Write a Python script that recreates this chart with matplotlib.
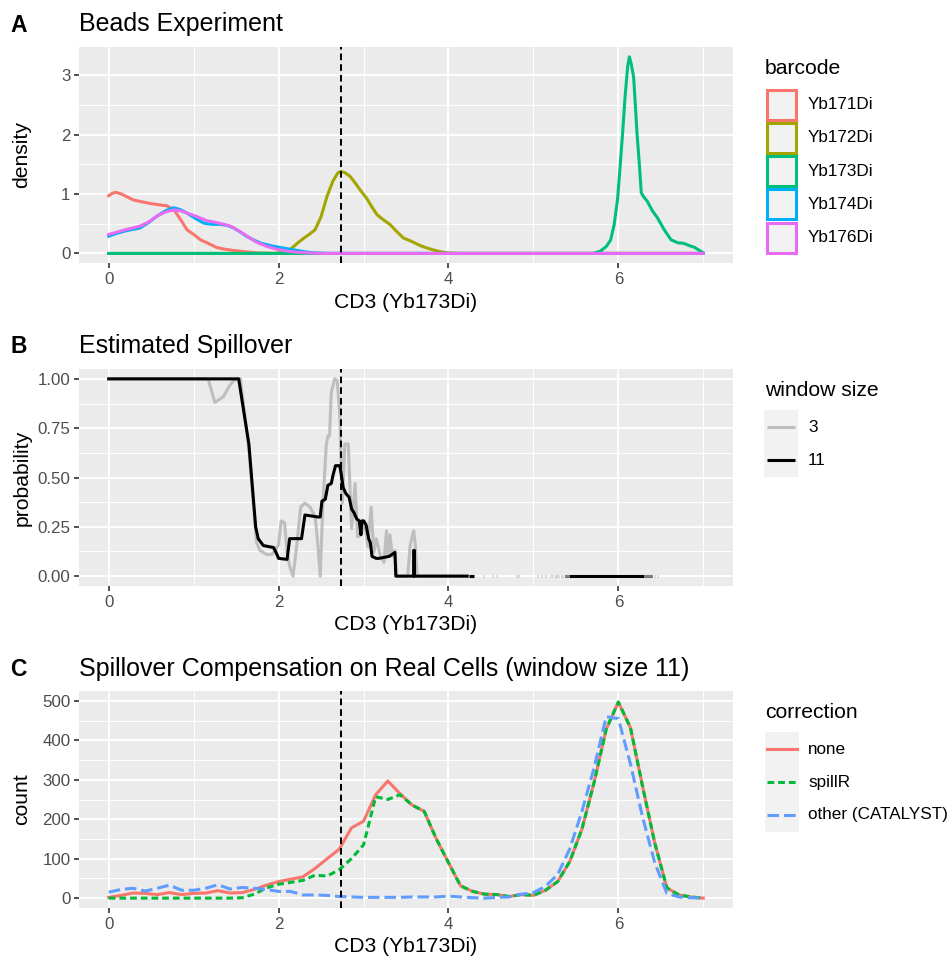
import numpy as np
import matplotlib
matplotlib.use("Agg")
import matplotlib.pyplot as plt
from matplotlib.patches import Rectangle
from matplotlib.ticker import FormatStrFormatter

plt.rcParams['font.family'] = ['Liberation Sans', 'DejaVu Sans']

# ---- Panel A: bead densities per barcode ----
barcodes = ["Yb171Di", "Yb172Di", "Yb173Di", "Yb174Di", "Yb176Di"]
bar_colors = ["#F8766D", "#A3A500", "#00BF7D", "#00B0F6", "#E76BF3"]

yb171_x = [0, 0.04, 0.08, 0.15, 0.29, 0.49, 0.69, 0.78, 0.86, 0.92, 1.0, 1.08, 1.2, 1.27,
           1.37, 1.47, 1.6, 1.75, 2.0, 7]
yb171_y = [0.97, 1.01, 1.03, 1.0, 0.9, 0.84, 0.80, 0.71, 0.54, 0.40, 0.32, 0.23, 0.15, 0.10,
           0.07, 0.05, 0.03, 0.01, 0.0, 0.0]
yb172_x = [0, 1.95, 2.05, 2.14, 2.22, 2.29, 2.36, 2.43, 2.5, 2.57, 2.64, 2.70, 2.73, 2.78, 2.84,
           2.9, 2.96, 3.04, 3.1, 3.16, 3.24, 3.31, 3.39, 3.47, 3.57, 3.67, 3.75, 3.82, 3.9, 3.98,
           4.1, 7]
yb172_y = [0, 0, 0.02, 0.07, 0.17, 0.25, 0.32, 0.40, 0.62, 0.96, 1.22, 1.36, 1.38, 1.36, 1.30,
           1.19, 1.07, 0.92, 0.78, 0.65, 0.56, 0.49, 0.37, 0.26, 0.20, 0.13, 0.09, 0.06, 0.03, 0.01,
           0, 0]
yb173_x = [0, 5.7, 5.79, 5.86, 5.91, 5.95, 5.99, 6.02, 6.05, 6.08, 6.11, 6.13, 6.15, 6.18, 6.2,
           6.22, 6.25, 6.27, 6.3, 6.34, 6.4, 6.46, 6.54, 6.62, 6.7, 6.77, 6.84, 6.9, 7.0]
yb173_y = [0, 0, 0.04, 0.12, 0.23, 0.48, 0.9, 1.45, 2.02, 2.65, 3.15, 3.31, 3.2, 2.97, 2.5,
           2.02, 1.45, 1.02, 0.95, 0.88, 0.72, 0.6, 0.4, 0.23, 0.18, 0.17, 0.13, 0.10, 0.01]
yb174_x = [0, 0.1, 0.2, 0.37, 0.47, 0.57, 0.67, 0.76, 0.84, 0.92, 1.02, 1.12, 1.22, 1.31, 1.4,
           1.47, 1.55, 1.62, 1.7, 1.8, 1.94, 2.06, 2.18, 2.3, 2.41, 2.6, 7]
yb174_y = [0.29, 0.34, 0.38, 0.43, 0.52, 0.63, 0.72, 0.77, 0.74, 0.68, 0.59, 0.51, 0.49, 0.49,
           0.47, 0.43, 0.36, 0.29, 0.23, 0.17, 0.12, 0.09, 0.06, 0.03, 0.01, 0, 0]
yb176_x = [0, 0.1, 0.2, 0.37, 0.47, 0.57, 0.67, 0.76, 0.84, 0.92, 1.02, 1.16, 1.3, 1.43, 1.52,
           1.63, 1.74, 1.86, 1.98, 2.1, 2.22, 2.33, 2.5, 7]
yb176_y = [0.32, 0.36, 0.40, 0.46, 0.53, 0.63, 0.70, 0.73, 0.72, 0.68, 0.63, 0.55, 0.51, 0.46,
           0.39, 0.29, 0.19, 0.12, 0.07, 0.04, 0.02, 0.01, 0, 0]
density_x = [yb171_x, yb172_x, yb173_x, yb174_x, yb176_x]
density_y = [yb171_y, yb172_y, yb173_y, yb174_y, yb176_y]

# ---- Panel B: estimated spillover probability ----
win3_x = [0, 1.17, 1.25, 1.35, 1.43, 1.49, 1.55, 1.65, 1.74, 1.78, 1.86, 1.92, 1.96, 2.0, 2.03,
          2.07, 2.10, 2.13, 2.17, 2.21, 2.26, 2.31, 2.37, 2.43, 2.46, 2.49, 2.52, 2.56, 2.58,
          2.60, 2.62, 2.66, 2.69, 2.72, 2.75, 2.78, 2.82, 2.86, 2.90, 2.93, 2.97, 3.01, 3.05,
          3.09, 3.12, 3.15, 3.20, 3.24, 3.27, 3.29, 3.31, 3.34, 3.37, 3.39, 3.52, 3.55, 3.59,
          3.61, 3.63, 4.22]
win3_y = [1, 1, 0.88, 0.91, 0.97, 1.0, 1.0, 0.64, 0.17, 0.13, 0.11, 0.11, 0.13, 0.16, 0.28,
          0.27, 0.12, 0.05, 0.0, 0.14, 0.35, 0.37, 0.35, 0.30, 0.17, 0.0, 0.35, 0.66, 0.71,
          0.71, 0.93, 1.0, 0.99, 0.82, 0.37, 0.67, 0.67, 0.24, 0.47, 0.20, 0.21, 0.28, 0.15,
          0.35, 0.12, 0.19, 0.10, 0.07, 0.23, 0.10, 0.21, 0.10, 0.13, 0.0, 0.0, 0.16, 0.23,
          0.16, 0.0, 0.0]
win11_x = [0, 1.53, 1.65, 1.73, 1.76, 1.82, 1.94, 1.97, 2.0, 2.1, 2.13, 2.27, 2.31, 2.46, 2.49,
           2.51, 2.55, 2.58, 2.62, 2.64, 2.67, 2.72, 2.74, 2.76, 2.79, 2.83, 2.86, 2.89, 2.92,
           2.95, 2.97, 2.98, 3.0, 3.03, 3.06, 3.08, 3.10, 3.15, 3.18, 3.30, 3.37, 3.38, 3.59,
           3.59, 3.60, 3.60, 4.22]
win11_y = [1, 1, 0.67, 0.25, 0.19, 0.155, 0.145, 0.12, 0.09, 0.085, 0.19, 0.19, 0.31, 0.30,
           0.30, 0.38, 0.39, 0.46, 0.47, 0.51, 0.56, 0.56, 0.51, 0.45, 0.42, 0.40, 0.34, 0.32,
           0.29, 0.28, 0.21, 0.28, 0.28, 0.26, 0.19, 0.17, 0.10, 0.09, 0.09, 0.10, 0.12, 0.0,
           0.0, 0.13, 0.13, 0.0, 0.0]
# sparse zero-probability stretches at high intensity
win3_tail = [4.41, 4.51, 4.56, 4.79, 4.82, 5.04, 5.09, 5.14, 5.19, 5.22, 5.26, 5.29, 5.32,
             5.34, 6.42, 6.45]
win11_tail = [(4.24, 4.30), (5.37, 5.385), (5.395, 5.41), (5.42, 6.30), (6.31, 6.32),
              (6.335, 6.345), (6.36, 6.37), (6.385, 6.395)]

# ---- Panel C: counts on real cells ----
bins = np.linspace(0, 7, 50)
count_none = [2, 7, 13, 12, 9, 14, 9, 12, 13, 19, 13, 14, 22, 33, 42, 48, 54, 75, 100, 124,
              178, 195, 262, 297, 265, 236, 220, 150, 90, 31, 17, 10, 9, 4, 9, 7, 20, 42, 93,
              175, 293, 428, 497, 432, 283, 140, 26, 8, 3, 0]
count_spillr = [0, 0, 0, 0, 0, 0, 0, 0, 0, 0, 0, 1, 10, 26, 35, 40, 45, 58, 56, 72, 100, 135,
                257, 250, 262, 236, 220, 150, 90, 31, 17, 10, 9, 4, 9, 7, 20, 42, 93, 175, 293,
                428, 497, 432, 283, 140, 26, 8, 3, 0]
count_catalyst = [15, 22, 25, 18, 25, 33, 20, 20, 25, 34, 23, 27, 25, 22, 17, 17, 8, 8, 7, 4,
                  3, 2, 2, 2, 2, 3, 3, 3, 5, 3, 1, 0, 2, 3, 10, 14, 30, 60, 125, 220, 330, 460,
                  455, 340, 205, 90, 12, 3, 1, 0]
corrections = ["none", "spillR", "other (CATALYST)"]
corr_colors = ["#F8766D", "#00BA38", "#619CFF"]
corr_styles = ["-", (0, (2.2, 1.3)), (0, (3.8, 1.6))]

threshold = 2.73

W, H = 947, 958
fig = plt.figure(figsize=(W / 100, H / 100), dpi=100)

TICK_FS = 12.2
LAB_FS = 15.2
TITLE_FS = 18
TAG_FS = 16.5
KEY_FS = 12.3


def panel(top, bottom):
    ax = fig.add_axes([79 / W, 1 - bottom / H, 654 / W, (bottom - top) / H])
    ax.set_facecolor("#EBEBEB")
    for s in ax.spines.values():
        s.set_visible(False)
    ax.set_axisbelow(True)
    ax.grid(which="major", color="white", lw=1.3)
    ax.grid(which="minor", color="white", lw=0.65)
    ax.tick_params(which="major", length=3.8, width=1.2, color="#333333",
                   labelcolor="#4D4D4D", labelsize=TICK_FS, pad=2.4)
    ax.tick_params(which="minor", length=0)
    ax.set_xlim(-0.35, 7.35)
    ax.set_xticks([0, 2, 4, 6])
    ax.set_xticks([1, 3, 5, 7], minor=True)
    ax.axvline(threshold, color="black", lw=1.45, ls=(0, (3.3, 2.0)), zorder=5)
    ax.set_xlabel("CD3 (Yb173Di)", fontsize=LAB_FS)
    ax.xaxis.label.set_va("center")
    ax.xaxis.set_label_coords(0.5, -39 / (bottom - top))
    return ax


def ylab(ax, text):
    ax.set_ylabel(text, fontsize=LAB_FS)
    ax.yaxis.label.set_va("center")
    ax.yaxis.label.set_ha("center")
    ax.yaxis.set_label_coords((22 - 79) / 654, 0.5)


def heading(tag, title, baseline):
    fig.text(10 / W, 1 - baseline / H, tag, fontsize=TAG_FS, fontweight="bold", va="baseline")
    fig.text(79 / W, 1 - baseline / H, title, fontsize=TITLE_FS, va="baseline")


# Panel A
axA = panel(46.7, 263.3)
for xs, ys, c in zip(density_x, density_y, bar_colors):
    axA.plot(xs, ys, color=c, lw=2.2)
axA.set_ylim(-0.166, 3.48)
axA.set_yticks([0, 1, 2, 3])
axA.set_yticks([0.5, 1.5, 2.5], minor=True)
ylab(axA, "density")
heading("A", "Beads Experiment", 31.5)

# Panel B
axB = panel(369, 586)
axB.plot(win3_x, win3_y, color="#BEBEBE", lw=2.2, solid_joinstyle="round")
for t in win3_tail:
    axB.plot([t, t + 0.012], [0, 0], color="#BEBEBE", lw=2.2, solid_capstyle="butt")
axB.plot(win11_x, win11_y, color="black", lw=2.2, solid_joinstyle="round")
for a, b in win11_tail:
    axB.plot([a, b], [0, 0], color="black", lw=2.2, solid_capstyle="butt")
axB.set_ylim(-0.05, 1.05)
axB.set_yticks([0, 0.25, 0.5, 0.75, 1.0])
axB.set_yticks([0.125, 0.375, 0.625, 0.875], minor=True)
axB.yaxis.set_major_formatter(FormatStrFormatter("%.2f"))
ylab(axB, "probability")
heading("B", "Estimated Spillover", 353.5)

# Panel C
axC = panel(691, 908)
for ys, c, ls in zip([count_none, count_spillr, count_catalyst], corr_colors, corr_styles):
    axC.plot(bins, ys, color=c, lw=2.2, ls=ls)
axC.set_ylim(-25, 525)
axC.set_yticks([0, 100, 200, 300, 400, 500])
axC.set_yticks([50, 150, 250, 350, 450], minor=True)
ylab(axC, "count")
heading("C", "Spillover Compensation on Real Cells (window size 11)", 676)

# Legends drawn in pixel coordinates
lax = fig.add_axes([0, 0, 1, 1])
lax.set_xlim(0, W)
lax.set_ylim(H, 0)
lax.axis("off")

# barcode legend
lax.text(765, 68, "barcode", fontsize=LAB_FS, va="center")
for i, (lab, c) in enumerate(zip(barcodes, bar_colors)):
    yc = 104.5 + 33.3 * i
    lax.add_patch(Rectangle((766.5, yc - 15), 29, 30, facecolor="#F2F2F2", edgecolor=c, lw=2.2))
    lax.text(808, yc, lab, fontsize=KEY_FS, va="center")

# window size legend
lax.text(765, 390, "window size", fontsize=LAB_FS, va="center")
lax.add_patch(Rectangle((764, 410), 34, 67, facecolor="#F2F2F2", edgecolor="none"))
for i, (lab, c) in enumerate(zip(["3", "11"], ["#BEBEBE", "black"])):
    yc = 427 + 33 * i
    lax.plot([767, 795], [yc, yc], color=c, lw=2.2, solid_capstyle="butt")
    lax.text(808, yc, lab, fontsize=KEY_FS, va="center")

# correction legend
lax.text(765, 713, "correction", fontsize=LAB_FS, va="center")
lax.add_patch(Rectangle((765, 732), 34, 100, facecolor="#F2F2F2", edgecolor="none"))
for i, (lab, c, ls) in enumerate(zip(corrections, corr_colors, corr_styles)):
    yc = 749 + 33 * i
    lax.plot([767, 797], [yc, yc], color=c, lw=2.2, ls=ls, dash_capstyle="butt")
    lax.text(808, yc, lab, fontsize=KEY_FS, va="center")

fig.savefig("out.png", dpi=100)
